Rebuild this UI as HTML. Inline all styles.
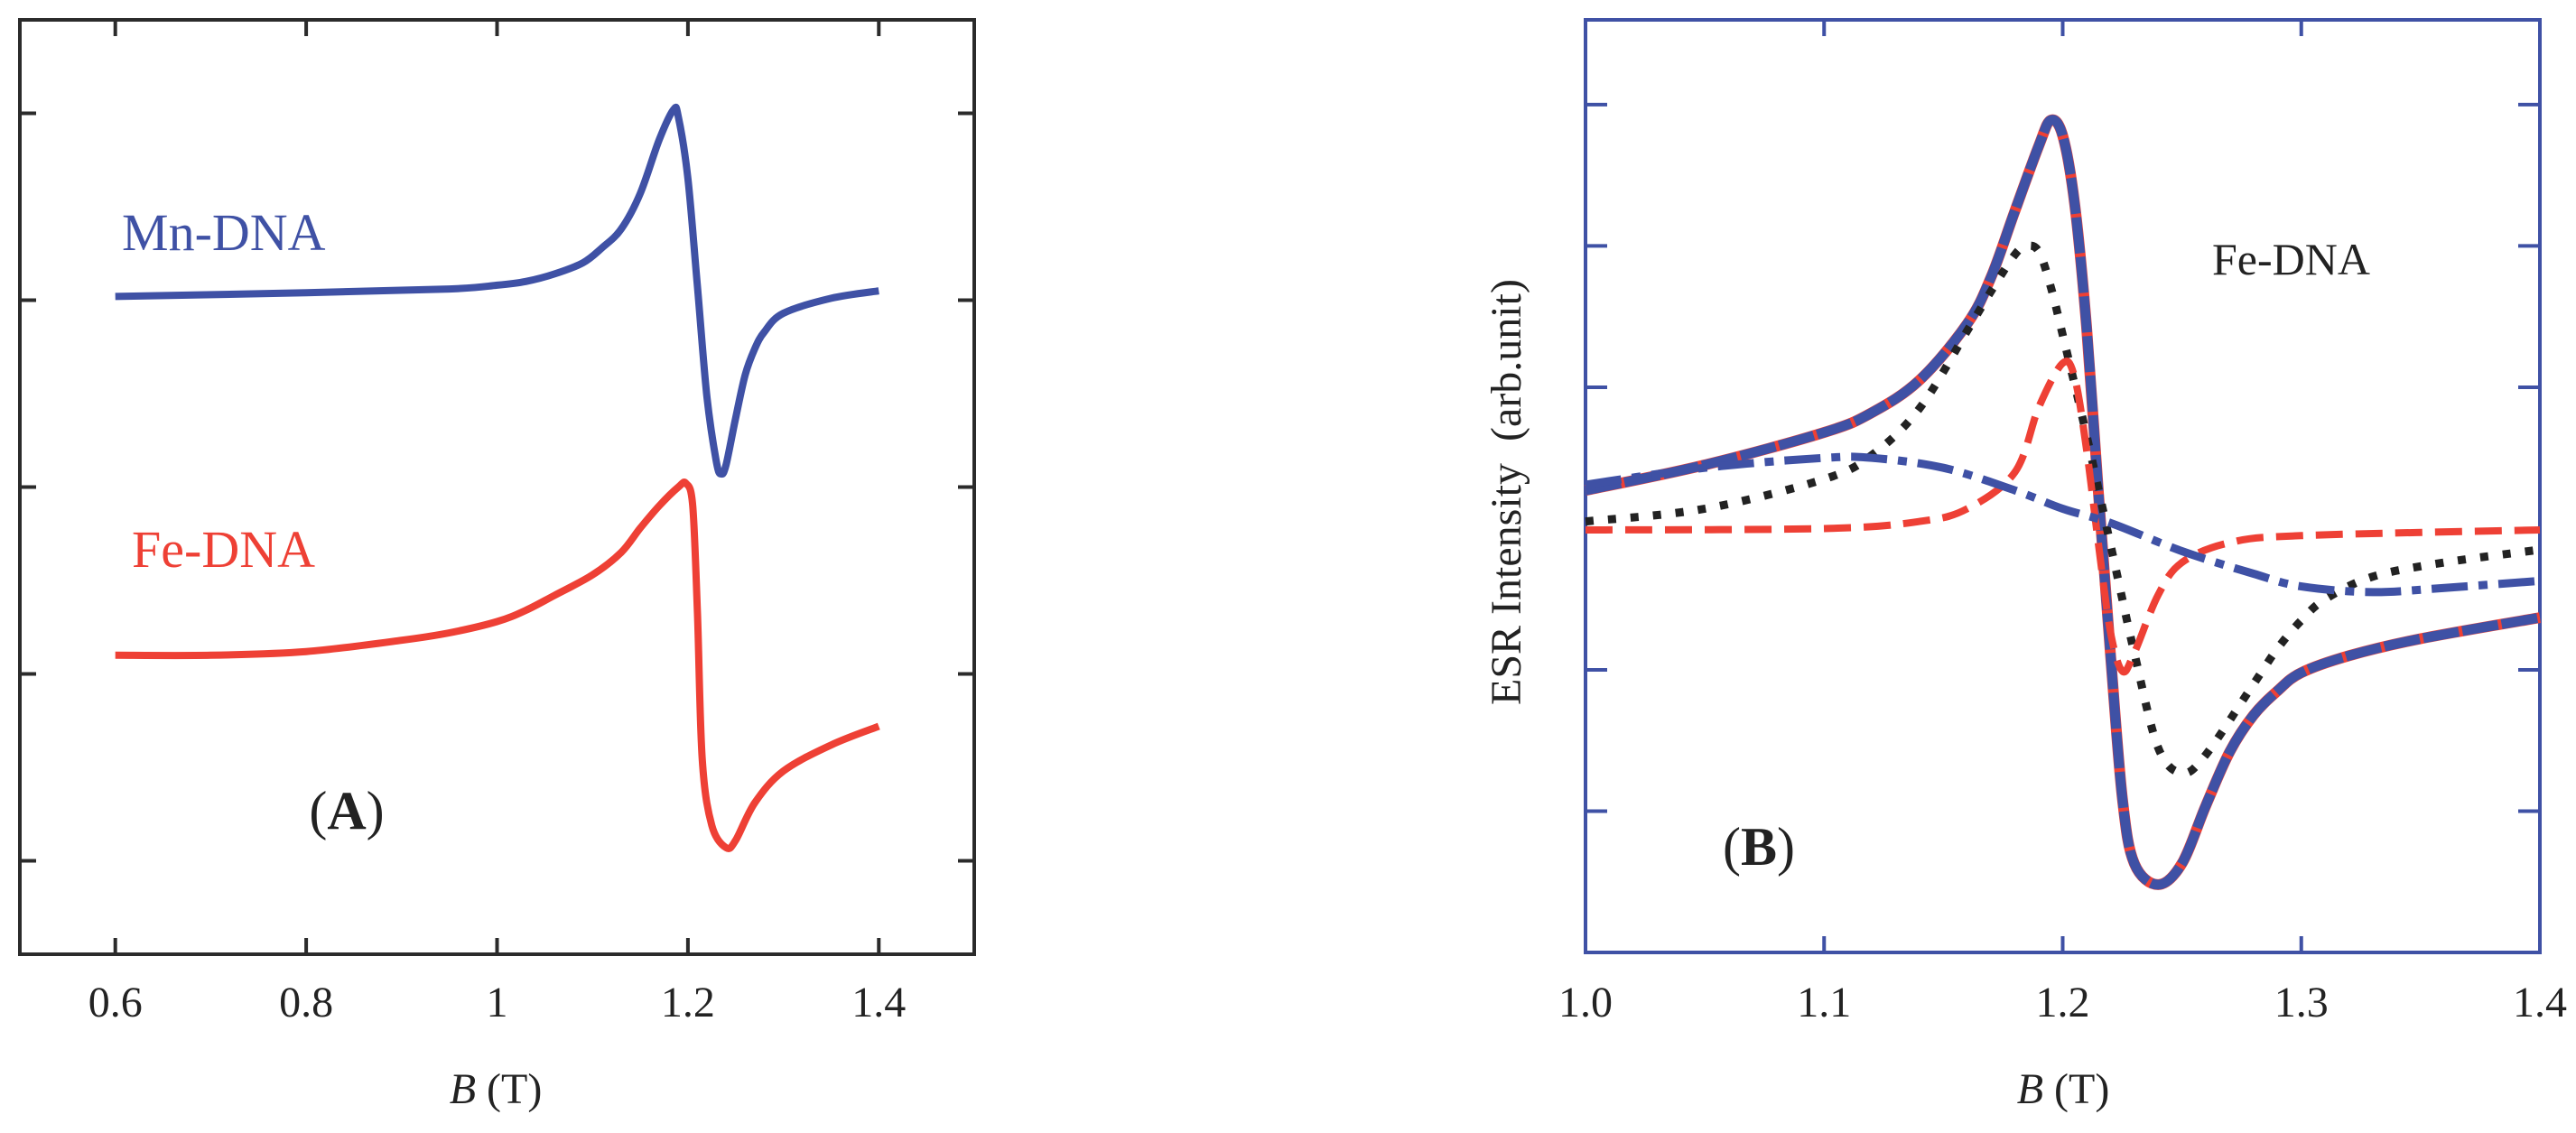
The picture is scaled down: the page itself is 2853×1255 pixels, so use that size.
<!DOCTYPE html>
<html><head><meta charset="utf-8"><style>
body{margin:0;background:#fff}
svg{display:block;font-family:"Liberation Serif",serif}
</style></head><body>
<svg id="chart" width="2853" height="1255" viewBox="0 0 2853 1255" xmlns="http://www.w3.org/2000/svg">
<g id="pa"></g>
<g id="pb"></g>
</svg>
<script>
// Panel A data
const aTicksX = [0.6, 0.8, 1.0, 1.2, 1.4];
const aTickLabels = ["0.6", "0.8", "1", "1.2", "1.4"];
const aTicksY = [0.5, 1.5, 2.5, 3.5, 4.5];
const mnB = [0.6,0.8,0.95,1.0,1.03,1.06,1.09,1.11,1.13,1.15,1.17,1.185,1.19,1.2,1.21,1.22,1.23,1.235,1.24,1.25,1.26,1.27,1.28,1.3,1.35,1.4];
const mnI = [3.52,3.54,3.56,3.58,3.6,3.64,3.7,3.78,3.88,4.07,4.36,4.52,4.48,4.15,3.57,2.98,2.63,2.57,2.62,2.87,3.1,3.24,3.33,3.43,3.51,3.55];
const feB = [0.6,0.7,0.8,0.9,0.95,1.0,1.03,1.06,1.1,1.13,1.15,1.17,1.19,1.198,1.205,1.21,1.215,1.225,1.24,1.25,1.27,1.3,1.35,1.4];
const feI = [1.6,1.6,1.62,1.68,1.72,1.78,1.84,1.92,2.03,2.15,2.28,2.4,2.5,2.52,2.4,1.82,1.04,0.69,0.57,0.61,0.81,0.98,1.12,1.22];
// Panel B data
const bTicksX = [1.0, 1.1, 1.2, 1.3, 1.4];
const bTickLabels = ["1.0", "1.1", "1.2", "1.3", "1.4"];
const bTicksY = [1, 2, 3, 4, 5, 6];
const totB = [1.0,1.05,1.1,1.12,1.14,1.16,1.17,1.18,1.19,1.195,1.2,1.205,1.21,1.215,1.22,1.225,1.23,1.24,1.25,1.26,1.27,1.28,1.29,1.3,1.32,1.35,1.4];
const totI = [3.27,3.45,3.68,3.82,4.05,4.45,4.78,5.25,5.71,5.89,5.78,5.3,4.43,3.25,2.12,1.09,0.63,0.48,0.63,1.04,1.42,1.68,1.85,1.98,2.1,2.22,2.37];
const dotB = [1.0,1.05,1.1,1.12,1.14,1.16,1.17,1.18,1.185,1.19,1.195,1.2,1.21,1.22,1.23,1.24,1.25,1.26,1.28,1.29,1.3,1.31,1.33,1.36,1.4];
const dotI = [3.05,3.14,3.35,3.52,3.85,4.4,4.68,4.94,5.0,4.96,4.71,4.37,3.66,2.89,2.12,1.45,1.27,1.4,1.9,2.15,2.35,2.5,2.66,2.76,2.85];
const rdB = [1.0,1.1,1.14,1.16,1.18,1.19,1.2,1.205,1.21,1.215,1.22,1.225,1.23,1.24,1.25,1.27,1.3,1.4];
const rdI = [2.99,3.0,3.05,3.14,3.4,3.86,4.17,4.07,3.56,2.89,2.27,1.99,2.12,2.53,2.76,2.9,2.95,2.99];
const bdB = [1.0,1.05,1.1,1.12,1.15,1.18,1.2,1.22,1.25,1.28,1.3,1.33,1.36,1.4];
const bdI = [3.31,3.43,3.5,3.5,3.43,3.27,3.14,3.04,2.84,2.68,2.59,2.55,2.58,2.63];

const NS = "http://www.w3.org/2000/svg";
const BLUE = "#3f51a5", RED = "#ee4035", DARK = "#2b2b2b";
function mk(parent, tag, attrs, text){
  const e = document.createElementNS(NS, tag);
  for (const k in attrs) e.setAttribute(k, attrs[k]);
  if (text !== undefined) e.textContent = text;
  parent.appendChild(e);
  return e;
}
const ax = {x0:22, x1:1079, y0:1057, y1:22, bmin:0.5, bmax:1.5, imin:0, imax:5};
const bx = {x0:1756, x1:2813, y0:1055, y1:22, bmin:1.0, bmax:1.4, imin:0, imax:6.6};
const sx = (a, v) => a.x0 + (v - a.bmin) / (a.bmax - a.bmin) * (a.x1 - a.x0);
const sy = (a, v) => a.y0 - (v - a.imin) / (a.imax - a.imin) * (a.y0 - a.y1);
function smoothPath(a, xs, ys){
  const p = xs.map((x,i)=>[sx(a,x), sy(a,ys[i])]);
  let d = "M" + p[0][0].toFixed(1) + "," + p[0][1].toFixed(1);
  for (let i=0;i<p.length-1;i++){
    const p0=p[Math.max(0,i-1)], p1=p[i], p2=p[i+1], p3=p[Math.min(p.length-1,i+2)];
    const c1=[p1[0]+(p2[0]-p0[0])/6, p1[1]+(p2[1]-p0[1])/6];
    const c2=[p2[0]-(p3[0]-p1[0])/6, p2[1]-(p3[1]-p1[1])/6];
    d += " C"+c1[0].toFixed(1)+","+c1[1].toFixed(1)+" "+c2[0].toFixed(1)+","+c2[1].toFixed(1)+" "+p2[0].toFixed(1)+","+p2[1].toFixed(1);
  }
  return d;
}

// ---- Panel A ----
const pa = document.getElementById("pa");
let e;
e = mk(pa, "rect", {x:ax.x0, y:ax.y1, width:ax.x1-ax.x0, height:ax.y0-ax.y1, fill:"none", stroke:DARK, "stroke-width":4});


aTicksX.forEach((t,i)=>{
  const x = sx(ax,t);
  e = mk(pa,"path",{d:`M${x},${ax.y0}v-18M${x},${ax.y1}v18`,stroke:DARK,"stroke-width":4});
  
  
  e = mk(pa,"text",{x:x,y:1126,"text-anchor":"middle","font-size":48,fill:"#222"},aTickLabels[i]);
  
  
});
aTicksY.forEach(t=>{
  const y = sy(ax,t);
  e = mk(pa,"path",{d:`M${ax.x0},${y}h18M${ax.x1},${y}h-18`,stroke:DARK,"stroke-width":4});
  
  
});
e = mk(pa,"path",{d:smoothPath(ax,mnB,mnI),fill:"none",stroke:BLUE,"stroke-width":8,"stroke-linejoin":"round"});


e = mk(pa,"path",{d:smoothPath(ax,feB,feI),fill:"none",stroke:RED,"stroke-width":8,"stroke-linejoin":"round"});


e = mk(pa,"text",{x:135,y:277,"font-size":58,fill:BLUE},"Mn-DNA");


e = mk(pa,"text",{x:146,y:628,"font-size":58,fill:RED},"Fe-DNA");


e = mk(pa,"text",{x:384,y:918,"text-anchor":"middle","font-size":60,fill:"#222"});
e.innerHTML = '(<tspan font-weight="bold">A</tspan>)';


e = mk(pa,"text",{x:549,y:1222,"text-anchor":"middle","font-size":48,fill:"#222"});
e.innerHTML = '<tspan font-style="italic">B</tspan> (T)';



// ---- Panel B ----
const pb = document.getElementById("pb");
e = mk(pb, "rect", {x:bx.x0, y:bx.y1, width:bx.x1-bx.x0, height:bx.y0-bx.y1, fill:"none", stroke:BLUE, "stroke-width":4});


bTicksX.forEach((t,i)=>{
  const x = sx(bx,t);
  e = mk(pb,"path",{d:`M${x},${bx.y0}v-18M${x},${bx.y1}v18`,stroke:BLUE,"stroke-width":4});
  
  
  e = mk(pb,"text",{x:x,y:1126,"text-anchor":"middle","font-size":48,fill:"#222"},bTickLabels[i]);
  
  
});
bTicksY.forEach(t=>{
  const y = sy(bx,t);
  e = mk(pb,"path",{d:`M${bx.x0},${y}h24M${bx.x1},${y}h-24`,stroke:BLUE,"stroke-width":4});
  
  
});
e = mk(pb,"path",{d:smoothPath(bx,totB,totI),fill:"none",stroke:RED,"stroke-width":12,"stroke-linejoin":"round"});


e = mk(pb,"path",{d:smoothPath(bx,totB,totI),fill:"none",stroke:BLUE,"stroke-width":11,"stroke-dasharray":"40 4","stroke-linejoin":"round"});


e = mk(pb,"path",{d:smoothPath(bx,dotB,dotI),fill:"none",stroke:"#222","stroke-width":9,"stroke-dasharray":"9 16"});


e = mk(pb,"path",{d:smoothPath(bx,rdB,rdI),fill:"none",stroke:RED,"stroke-width":8,"stroke-dasharray":"30 14"});


e = mk(pb,"path",{d:smoothPath(bx,bdB,bdI),fill:"none",stroke:BLUE,"stroke-width":9,"stroke-dasharray":"40 12 10 12"});


e = mk(pb,"text",{x:2450,y:304,"font-size":50,fill:"#222"},"Fe-DNA");


e = mk(pb,"text",{x:1948,y:958,"text-anchor":"middle","font-size":60,fill:"#222"});
e.innerHTML = '(<tspan font-weight="bold">B</tspan>)';


e = mk(pb,"text",{x:2285,y:1222,"text-anchor":"middle","font-size":48,fill:"#222"});
e.innerHTML = '<tspan font-style="italic">B</tspan>  (T)';


e = mk(pb,"text",{x:0,y:0,"text-anchor":"middle","font-size":48,fill:"#222",transform:"translate(1684,545) rotate(-90)"},"ESR Intensity\u00a0\u00a0(arb.unit)");


</script>
</body></html>
